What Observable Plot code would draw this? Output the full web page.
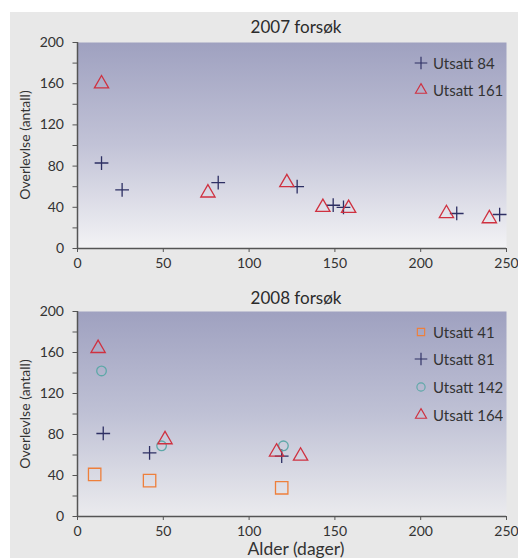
<!DOCTYPE html>
<html><head><meta charset="utf-8">
<script src="https://cdn.jsdelivr.net/npm/d3@7"></script>
<script src="https://cdn.jsdelivr.net/npm/@observablehq/plot@0.6"></script>
<style>
html,body{margin:0;padding:0;background:#fff;width:518px;height:558px;overflow:hidden;font-family:Lato,"Open Sans",sans-serif;color:#333;}
#bg{position:absolute;left:10px;top:12px;width:508px;height:546px;background:#e8e8e8;}
.panel{position:absolute;left:0;width:518px;}
.title{position:absolute;left:196px;width:200px;text-align:center;font-size:17px;line-height:20px;color:#2b2b2b;white-space:nowrap;}
.ylab{position:absolute;width:200px;height:20px;line-height:20px;text-align:center;font-size:14px;color:#333;transform:rotate(-90deg);white-space:nowrap;}
.xlab{position:absolute;left:196px;width:200px;text-align:center;font-size:17.5px;line-height:20px;color:#333;white-space:nowrap;}
.legbox{position:absolute;left:414px;}
.lg1-swatches,.lg2-swatches{font-family:Lato,sans-serif !important;font-size:15px !important;margin:0 !important;color:#333;}
.lg1-swatch{height:27.3px;padding:0 !important;display:flex;align-items:center;}
.lg2-swatch{height:27.8px;padding:0 !important;display:flex;align-items:center;}
.lg1-swatch > svg,.lg2-swatch > svg{margin-right:5px !important;}
</style>
</head><body>
<div id="bg"></div>
<div id="p1" class="panel" style="top:0px;height:280px;"></div>
<div id="p2" class="panel" style="top:280px;height:278px;"></div>
<div class="title" style="top:16.5px;">2007 forsøk</div>
<div class="title" style="top:288.3px;">2008 forsøk</div>
<div class="ylab" style="left:-75px;top:135px;">Overlevlse (antall)</div>
<div class="ylab" style="left:-75px;top:404px;">Overlevlse (antall)</div>
<div class="xlab" style="top:539px;">Alder (dager)</div>
<div id="leg1" class="legbox" style="top:49px;"></div>
<div id="leg2" class="legbox" style="top:317.8px;"></div>
<script>
// ---- data ----
const xTicks = [0, 50, 100, 150, 200, 250];
const yTicksMajor = [0, 40, 80, 120, 160, 200];
const yTicksAll = [0, 20, 40, 60, 80, 100, 120, 140, 160, 180, 200];

const series2007 = ["Utsatt 84", "Utsatt 161"];
const ages2007_84 = [14, 26, 82, 128, 149, 155, 221, 246];
const surv2007_84 = [83, 57, 64, 60, 42, 40, 34, 33];
const ages2007_161 = [14, 76, 122, 143, 158, 215, 240];
const surv2007_161 = [160, 54, 64, 40, 39, 34, 29];

const series2008 = ["Utsatt 41", "Utsatt 81", "Utsatt 142", "Utsatt 164"];
const ages2008_41 = [10, 42, 119];
const surv2008_41 = [41, 35, 28];
const ages2008_81 = [15, 42, 119];
const surv2008_81 = [81, 62, 59];
const ages2008_142 = [14, 49, 120];
const surv2008_142 = [142, 69, 69];
const ages2008_164 = [12, 51, 116, 130];
const surv2008_164 = [164, 75, 63, 59];

// ---- styles ----
const symbolColor = {plus: "#2d2f63", triangle: "#cf3140", square: "#ee7f3b", circle: "#5ea8a8"};
const symbolR = {plus: 4.5, triangle: 5.3, square: 7, circle: 4.8};
const symbols2007 = ["plus", "triangle"];
const symbols2008 = ["square", "plus", "circle", "triangle"];

function rows(series, ages, surv) {
  return ages.map((a, i) => ({series, age: a, surv: surv[i]}));
}
const data2007 = [
  ...rows("Utsatt 84", ages2007_84, surv2007_84),
  ...rows("Utsatt 161", ages2007_161, surv2007_161)
];
const data2008 = [
  ...rows("Utsatt 41", ages2008_41, surv2008_41),
  ...rows("Utsatt 81", ages2008_81, surv2008_81),
  ...rows("Utsatt 142", ages2008_142, surv2008_142),
  ...rows("Utsatt 164", ages2008_164, surv2008_164)
];

function gradDefs(id, stops) {
  return () => {
    const defs = d3.create("svg:defs");
    const g = defs.append("linearGradient").attr("id", id)
      .attr("x1", 0).attr("y1", 0).attr("x2", 0).attr("y2", 1);
    stops.forEach(([o, c]) => g.append("stop").attr("offset", o).attr("stop-color", c));
    return defs.node();
  };
}

function makePanel(data, seriesNames, syms, gradId, stops, height, mTop, mBottom) {
  const dotMarks = seriesNames.map((s, i) => Plot.dot(data, {
    filter: d => d.series === s,
    x: "age", y: "surv", symbol: "series", stroke: "series", fill: "none",
    r: symbolR[syms[i]], strokeWidth: 1.3
  }));
  return Plot.plot({
    width: 518, height,
    marginLeft: 77, marginRight: 12, marginTop: mTop, marginBottom: mBottom,
    style: {fontFamily: "Lato, sans-serif", fontSize: "14px", color: "#333", background: "transparent", overflow: "visible"},
    x: {domain: [0, 250]},
    y: {domain: [0, 200]},
    symbol: {domain: seriesNames, range: syms},
    color: {type: "ordinal", domain: seriesNames, range: syms.map(s => symbolColor[s])},
    marks: [
      gradDefs(gradId, stops),
      Plot.frame({fill: `url(#${gradId})`, stroke: "none"}),
      Plot.axisY(yTicksAll, {tickSize: 4.5, tickPadding: 9, stroke: "#555", fill: "#333", fontSize: 14,
        tickFormat: d => yTicksMajor.includes(d) ? String(d) : "", label: null}),
      Plot.axisX(xTicks, {tickSize: 4, tickPadding: 6, stroke: "#555", fill: "#333", fontSize: 14, label: null}),
      Plot.ruleX([0], {stroke: "#555", strokeWidth: 1.5}),
      Plot.ruleY([0], {stroke: "#555", strokeWidth: 1.5}),
      ...dotMarks
    ]
  });
}

const plot1 = makePanel(data2007, series2007, symbols2007, "g1",
  [[0, "#9fa1c0"], [0.5, "#c2c3d7"], [1, "#f3f3f5"]], 280, 42, 32);
const plot2 = makePanel(data2008, series2008, symbols2008, "g2",
  [[0, "#9fa1c0"], [0.5, "#bfc1d5"], [1, "#ebebee"]], 278, 31, 42);

document.getElementById("p1").appendChild(plot1);
document.getElementById("p2").appendChild(plot2);
document.getElementById("leg1").appendChild(plot1.legend("symbol", {columns: 1, className: "lg1", r: 4.7, strokeWidth: 1.3, swatchSize: 14}));
document.getElementById("leg2").appendChild(plot2.legend("symbol", {columns: 1, className: "lg2", r: 4.7, strokeWidth: 1.3, swatchSize: 14}));
</script>
</body></html>
